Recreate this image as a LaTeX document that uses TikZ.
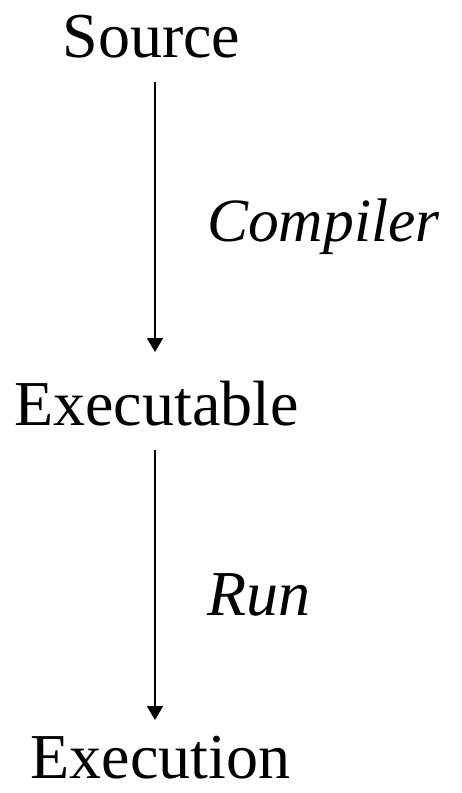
\documentclass[tikz,border=0pt]{standalone}
\usepackage{fontspec}
\setmainfont{Liberation Serif}
\usetikzlibrary{arrows.meta}
\begin{document}
\begin{tikzpicture}[x=1pt,y=-1pt,
  lbl/.style={inner sep=0pt,anchor=base,font=\fontsize{64}{70}\selectfont},
  edgelbl/.style={inner sep=0pt,anchor=base west,font=\fontsize{64}{70}\selectfont\itshape},
  arr/.style={line width=2pt,-{Triangle[width=16pt,length=14pt]}}]
\useasboundingbox (0,0) rectangle (462,793);
\node[lbl] (src) at (151.5,57) {Source};
\node[lbl] (exe) at (156.5,425) {Executable};
\node[lbl] (run) at (160.5,778) {Execution};
\node[edgelbl,font=\fontsize{61.5}{70}\selectfont\itshape] (comp) at (207,241) {Compiler};
\node[edgelbl] (runl) at (207,615) {Run};
\coordinate (a1s) at (155,82);
\coordinate (a1e) at (155,352);
\coordinate (a2s) at (155,450);
\coordinate (a2e) at (155,720);
\draw[arr] (a1s) -- (a1e);
\draw[arr] (a2s) -- (a2e);
\end{tikzpicture}
\end{document}
